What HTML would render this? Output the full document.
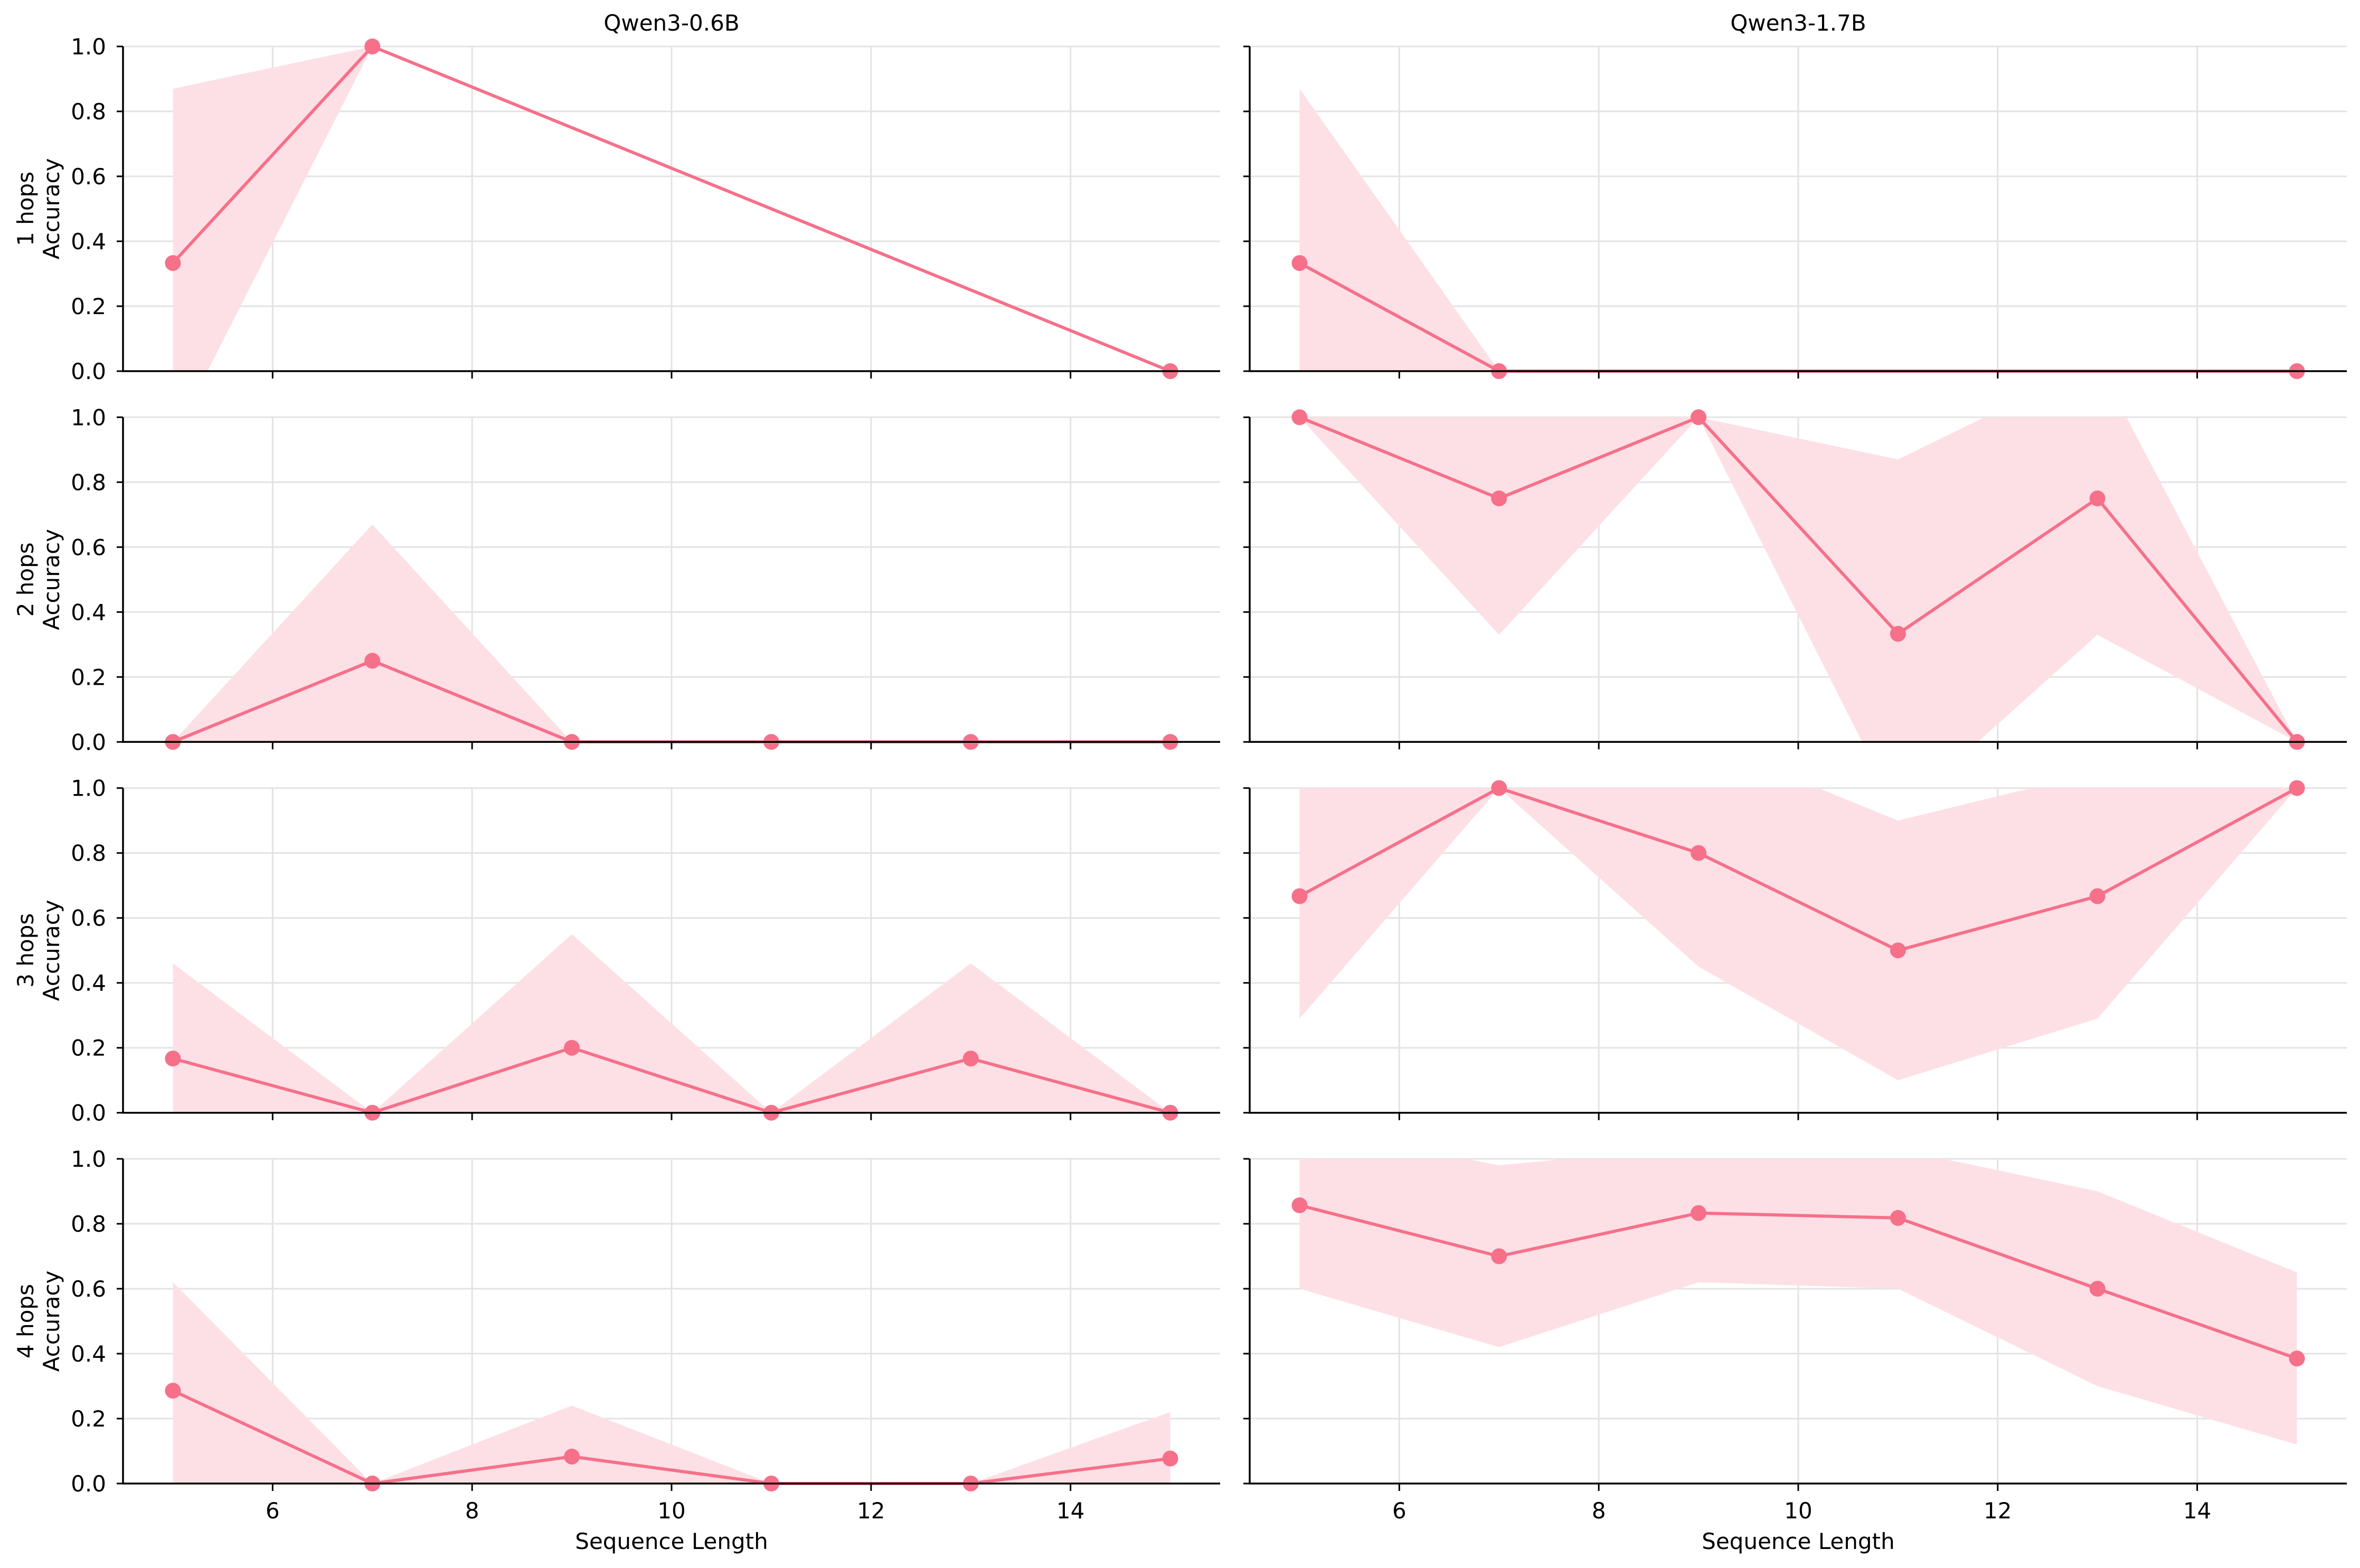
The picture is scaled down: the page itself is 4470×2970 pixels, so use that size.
<!DOCTYPE html>
<html><head><meta charset="utf-8"><style>
html,body{margin:0;padding:0;background:#fff;}
svg{display:block;font-family:"DejaVu Sans","Liberation Sans",sans-serif;}
</style></head><body>
<svg id="fig" width="4470" height="2970" viewBox="0 0 4470 2970" xmlns="http://www.w3.org/2000/svg"></svg>
<script>
const xs = [5,7,9,11,13,15];
const modelNames = ["Qwen3-0.6B","Qwen3-1.7B"];
const hopLabels = ["1 hops","2 hops","3 hops","4 hops"];
const yTicks = [0,0.2,0.4,0.6,0.8,1.0];
const xTicks = [6,8,10,12,14];
// left column (0.6B)
const L1x=[5,7,15], L1y=[0.333,1,0], L1u=[0.87,1,0], L1l=[-0.21,1,0];
const L2y=[0,0.25,0,0,0,0], L2u=[0,0.67,0,0,0,0], L2l=[0,-0.17,0,0,0,0];
const L3y=[0.167,0,0.2,0,0.167,0], L3u=[0.46,0,0.55,0,0.46,0], L3l=[-0.13,0,-0.15,0,-0.13,0];
const L4y=[0.286,0,0.083,0,0,0.077], L4u=[0.62,0,0.24,0,0,0.22], L4l=[-0.05,0,-0.07,0,0,-0.07];
// right column (1.7B)
const R1x=[5,7,15], R1y=[0.333,0,0], R1u=[0.87,0,0], R1l=[-0.2,0,0];
const R2y=[1,0.75,1,0.333,0.75,0], R2u=[1,1.17,1,0.87,1.17,0], R2l=[1,0.33,1,-0.22,0.33,0];
const R3y=[0.667,1,0.8,0.5,0.667,1], R3u=[1.05,1,1.15,0.9,1.05,1], R3l=[0.29,1,0.45,0.1,0.29,1];
const R4y=[0.857,0.7,0.833,0.818,0.6,0.385], R4u=[1.1,0.98,1.04,1.03,0.9,0.65], R4l=[0.6,0.42,0.62,0.6,0.3,0.12];

const panels = [
 [[L1x,L1y,L1u,L1l],[R1x,R1y,R1u,R1l]],
 [[xs,L2y,L2u,L2l],[xs,R2y,R2u,R2l]],
 [[xs,L3y,L3u,L3l],[xs,R3y,R3u,R3l]],
 [[xs,L4y,L4u,L4l],[xs,R4y,R4u,R4l]]
];
const svg=document.getElementById('fig');
const NS='http://www.w3.org/2000/svg';
function mk(tag,attrs,parent){const e=document.createElementNS(NS,tag);for(const k in attrs)e.setAttribute(k,attrs[k]);(parent||svg).appendChild(e);return e;}
const colLeft=[233,2367], colW=2078;
const rowBottom=[703,1405.3,2107.7,2810], rowH=615;
const LINE='#f6708a', FILL='#fde0e5';
const defs=mk('defs',{});
for(let r=0;r<4;r++){
 for(let c=0;c<2;c++){
  const x0=colLeft[c], yb=rowBottom[r], yt=yb-rowH;
  const X=v=>x0+(v-4.5)/11*colW;
  const Y=v=>yb-v*rowH;
  const cid='clip'+r+c;
  const cp=mk('clipPath',{id:cid},defs);
  mk('rect',{x:x0,y:yt,width:colW,height:rowH},cp);
  const g=mk('g',{});
  
  
  // grid
  yTicks.forEach(t=>{const l=mk('line',{x1:x0,x2:x0+colW,y1:Y(t),y2:Y(t),stroke:'#e3e3e3','stroke-width':3},g);
   });
  xTicks.forEach(t=>{const l=mk('line',{x1:X(t),x2:X(t),y1:yt,y2:yb,stroke:'#e3e3e3','stroke-width':3},g);
   });
  const [px,py,pu,pl]=panels[r][c];
  let d='M'+px.map((v,i)=>X(v)+','+Y(pu[i])).join(' L');
  for(let i=px.length-1;i>=0;i--)d+=' L'+X(px[i])+','+Y(pl[i]);
  d+=' Z';
  const band=mk('path',{d:d,fill:FILL,'clip-path':'url(#'+cid+')'},g);
  
  const ln=mk('polyline',{points:px.map((v,i)=>X(v)+','+Y(py[i])).join(' '),fill:'none',stroke:LINE,'stroke-width':6,'stroke-linejoin':'round'},g);
  
  px.forEach((v,i)=>{const m=mk('circle',{cx:X(v),cy:Y(py[i]),r:15,fill:LINE},g);
   });
  // axes
  const ay=mk('line',{x1:x0,x2:x0,y1:yt,y2:yb,stroke:'#000','stroke-width':3.5},g);
  
  const ax=mk('line',{x1:x0-2,x2:x0+colW,y1:yb,y2:yb,stroke:'#000','stroke-width':3.5},g);
  
  yTicks.forEach(t=>{mk('line',{x1:x0-12,x2:x0,y1:Y(t),y2:Y(t),stroke:'#000','stroke-width':3},g);
   if(c===0){const tx=mk('text',{x:x0-32,y:Y(t)+15,'text-anchor':'end','font-size':42},g);tx.textContent=t.toFixed(1);
    }});
  xTicks.forEach(t=>{mk('line',{x1:X(t),x2:X(t),y1:yb,y2:yb+14,stroke:'#000','stroke-width':3},g);
   if(r===3){const tx=mk('text',{x:X(t),y:yb+66,'text-anchor':'middle','font-size':42},g);tx.textContent=t;
    }});
  if(r===0){const tt=mk('text',{x:x0+colW/2,y:58,'text-anchor':'middle','font-size':42},g);tt.textContent=modelNames[c];
   }
  if(r===3){const xl=mk('text',{x:x0+colW/2,y:2934,'text-anchor':'middle','font-size':42},g);xl.textContent='Sequence Length';
   }
  if(c===0){const cy=yb-rowH/2;
   const t1=mk('text',{x:0,y:0,'text-anchor':'middle','font-size':42,transform:'translate(63,'+cy+') rotate(-90)'},g);t1.textContent=hopLabels[r];
   
   const t2=mk('text',{x:0,y:0,'text-anchor':'middle','font-size':42,transform:'translate(112,'+cy+') rotate(-90)'},g);t2.textContent='Accuracy';
   }
 }
}
</script>
</body></html>
